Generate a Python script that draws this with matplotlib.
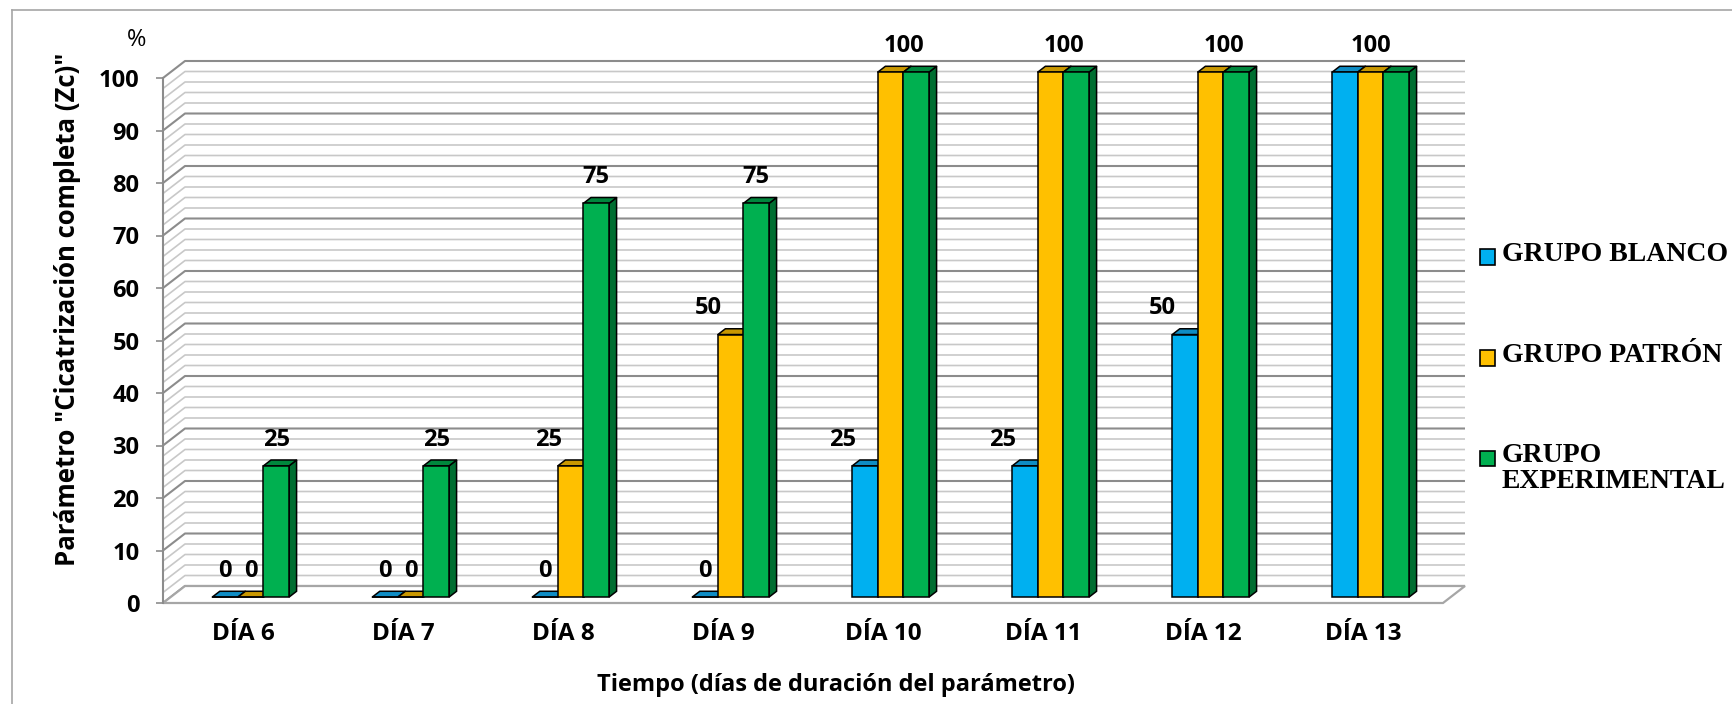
import numpy as np
import matplotlib
matplotlib.use('Agg')
import matplotlib.pyplot as plt
from matplotlib.patches import Polygon, Rectangle
from matplotlib.lines import Line2D

plt.rcParams['font.family'] = ['Open Sans', 'DejaVu Sans']

dias = ['DÍA 6', 'DÍA 7', 'DÍA 8', 'DÍA 9', 'DÍA 10', 'DÍA 11', 'DÍA 12', 'DÍA 13']
grupo_blanco = [0, 0, 0, 0, 25, 25, 50, 100]
grupo_patron = [0, 0, 25, 50, 100, 100, 100, 100]
grupo_experimental = [25, 25, 75, 75, 100, 100, 100, 100]
nombres = ['GRUPO BLANCO', 'GRUPO PATRÓN', 'GRUPO\nEXPERIMENTAL']
series = [grupo_blanco, grupo_patron, grupo_experimental]

# front, top, side colours
colores = [('#00B0F0', '#0E8CC4', '#0079A8'),
           ('#FFC000', '#C99700', '#A87E00'),
           ('#00B050', '#00873D', '#006E31')]

W, H = 1733, 704
fig = plt.figure(figsize=(W / 100, H / 100), dpi=100)


def fx(px):
    return px / W


def fy(py):
    return 1 - py / H


ax = fig.add_axes([fx(163), fy(603), fx(1443) - fx(163), fy(78) - fy(603)])
ax.set_xlim(0, len(dias))
ax.set_ylim(0, 100)
ax.patch.set_visible(False)

n = len(dias)
DX, DY = 22 / 160, 17 / 5.25   # depth of the 3d box in data units

# walls
ax.add_patch(Polygon([(0, 0), (DX, DY), (DX, 100 + DY), (0, 100)], fc='white', ec='none', zorder=0, clip_on=False))
ax.add_patch(Polygon([(DX, DY), (n + DX, DY), (n + DX, 100 + DY), (DX, 100 + DY)], fc='white', ec='none', zorder=0, clip_on=False))
for v in range(0, 101, 2):
    major = v % 10 == 0
    ax.plot([0, DX, n + DX], [v, v + DY, v + DY], color='#8c8c8c' if major else '#c8c8c8',
            lw=1.5 if major else 1.2, zorder=1, clip_on=False, solid_capstyle='butt')
ax.add_patch(Polygon([(0, 0), (n, 0), (n + DX, DY), (DX, DY)], fc='white', ec='#a6a6a6', lw=1.6, zorder=2, clip_on=False))

# bars
F0, F1 = 0.35, 0.69
BW = 0.16
ddx, ddy = (F1 - F0) * DX, (F1 - F0) * DY
z = 3
for i in range(n):
    vals = [s[i] for s in series]
    centros = []
    for j, v in enumerate(vals):
        x0 = i + 0.5 - 1.5 * BW + j * BW + F0 * DX
        y0 = F0 * DY
        front, top, side = colores[j]
        ax.add_patch(Polygon([(x0 + BW, y0), (x0 + BW + ddx, y0 + ddy), (x0 + BW + ddx, y0 + v + ddy), (x0 + BW, y0 + v)],
                             fc=side, ec='black', lw=1.1, zorder=z, clip_on=False))
        ax.add_patch(Polygon([(x0, y0 + v), (x0 + ddx, y0 + v + ddy), (x0 + BW + ddx, y0 + v + ddy), (x0 + BW, y0 + v)],
                             fc=top, ec='black', lw=1.1, zorder=z + 1, clip_on=False, joinstyle='round'))
        ax.add_patch(Rectangle((x0, y0), BW, v, fc=front, ec='black', lw=1.1, zorder=z + 2, clip_on=False))
        centros.append(x0 + BW / 2)
        z += 3
    # data labels, wide labels of equal neighbours are shown once
    j = 0
    while j < len(vals):
        k = j
        while k + 1 < len(vals) and vals[k + 1] == vals[j] and len(str(vals[j])) >= 3:
            k += 1
        xl = np.mean(centros[j:k + 1])
        # move two digit labels away from a taller bar on the right
        if k + 1 < len(vals) and vals[k + 1] > vals[j] and len(str(vals[j])) >= 2:
            xl -= 0.14
        ax.text(xl, vals[j] + F0 * DY + 5, str(vals[j]), ha='center', va='center',
                fontsize=17, fontweight='bold', zorder=200, clip_on=False)
        j = k + 1

for s in ['top', 'right', 'bottom']:
    ax.spines[s].set_visible(False)
ax.spines['left'].set_color('#8c8c8c')
ax.spines['left'].set_linewidth(1.5)
ax.spines['left'].set_zorder(2)

ax.set_yticks(range(0, 101, 10))
ax.tick_params(axis='y', length=5, width=1.2, color='#8c8c8c', pad=12, labelsize=17)
plt.setp(ax.get_yticklabels(), fontweight='bold')
ax.set_xticks(np.arange(n) + 0.5, dias, fontweight='bold', fontsize=17.5)
ax.tick_params(axis='x', length=0, pad=14)

fig.text(fx(68), fy(309), 'Parámetro "Cicatrización completa (Zc)"', rotation=90, ha='center', va='center',
         fontsize=18.5, fontweight='bold')
fig.text(fx(836), fy(685), 'Tiempo (días de duración del parámetro)', ha='center', va='center',
         fontsize=17, fontweight='bold')
fig.text(fx(137), fy(40), '%', ha='center', va='center', fontsize=17)

# legend
leg_y = [257, 358, 458]
for nombre, col, yc in zip(nombres, colores, leg_y):
    fig.add_artist(Rectangle((fx(1480), fy(yc + 7.5)), 15 / W, 15 / H, transform=fig.transFigure,
                             fc=col[0], ec='black', lw=1.2))
    fig.text(fx(1502), fy(yc - 15), nombre, ha='left', va='top', family='Liberation Serif',
             fontweight='bold', fontsize=20, linespacing=1.05)

# chart border
fig.add_artist(Line2D([fx(12), 1], [fy(10), fy(10)], transform=fig.transFigure, color='#a6a6a6', lw=1.2))
fig.add_artist(Line2D([fx(12), fx(12)], [fy(10), 0], transform=fig.transFigure, color='#a6a6a6', lw=1.2))

fig.savefig('out.png', dpi=100)
